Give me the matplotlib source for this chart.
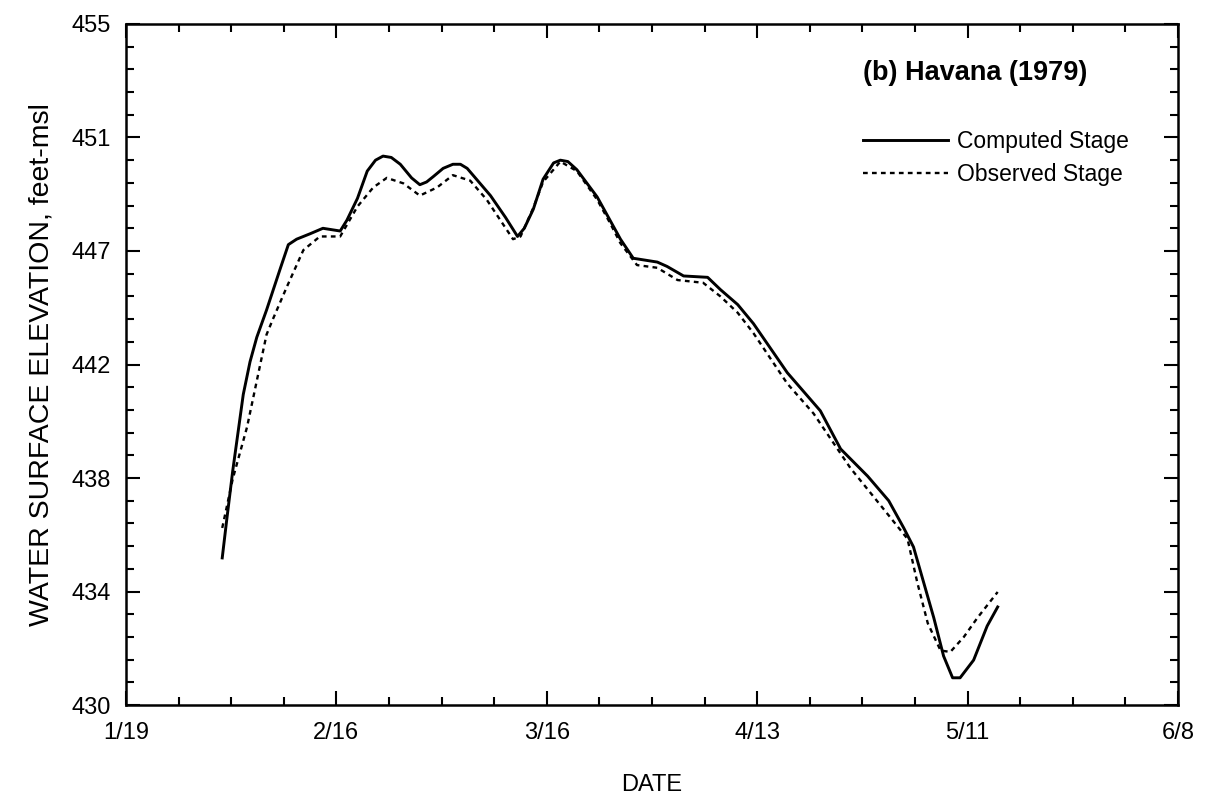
import matplotlib
matplotlib.use('Agg')
import numpy as np
import matplotlib.pyplot as plt
from matplotlib.ticker import MultipleLocator

plt.rcParams['font.family'] = ['Liberation Sans', 'DejaVu Sans']

# x = days after 1/19 (1979), y = stage in feet-msl
comp_day = [12.8, 13.4, 14.2, 15.6, 16.5, 17.4, 18.7, 20.5, 21.6, 22.7, 24.5, 26.2,
            28.5, 29.4, 30.8, 32.1, 33.2, 34.2, 35.3, 36.5, 38.0, 39.1, 40.0, 40.9,
            42.2, 43.5, 44.5, 45.4, 48.5, 50.5, 52.1, 53.0, 54.2, 55.5, 56.9, 57.8,
            58.8, 60.0, 62.7, 64.4, 65.8, 67.5, 70.7, 72.0, 74.2, 77.4, 79.1, 81.4,
            83.5, 88.0, 92.4, 95.1, 98.7, 101.5, 103.5, 104.8, 107.5, 108.8, 110.0,
            111.0, 112.8, 114.6, 116.0]
comp_stage = [435.4, 436.8, 438.6, 441.4, 442.6, 443.5, 444.5, 446.0, 446.9, 447.1, 447.3, 447.5,
              447.4, 447.8, 448.6, 449.6, 450.0, 450.15, 450.1, 449.85, 449.35, 449.1, 449.2, 449.4,
              449.7, 449.85, 449.85, 449.7, 448.7, 447.9, 447.2, 447.5, 448.2, 449.3, 449.9, 450.0,
              449.95, 449.65, 448.65, 447.8, 447.1, 446.4, 446.26, 446.1, 445.75, 445.7, 445.25, 444.7,
              444.0, 442.2, 440.8, 439.4, 438.4, 437.5, 436.5, 435.8, 433.2, 431.8, 431.0,
              431.0, 431.65, 432.9, 433.6]

obs_day = [12.8, 14.2, 16.1, 17.4, 18.7, 19.6, 21.4, 23.6, 25.8, 28.5, 30.8, 32.9,
           34.7, 36.9, 39.1, 41.4, 43.5, 45.8, 48.0, 51.5, 52.5, 54.2, 55.5, 57.8,
           60.0, 62.7, 64.4, 65.8, 68.0, 70.7, 73.4, 76.8, 79.1, 81.4, 83.5, 88.0,
           91.5, 96.4, 100.8, 104.0, 105.3, 106.7, 108.4, 109.7, 111.5, 113.3, 116.0]
obs_stage = [436.5, 438.3, 440.2, 441.9, 443.6, 444.2, 445.35, 446.7, 447.2, 447.2, 448.3, 449.0,
             449.35, 449.15, 448.7, 449.0, 449.45, 449.25, 448.55, 447.1, 447.2, 448.25, 449.2, 449.95,
             449.6, 448.55, 447.7, 446.95, 446.15, 446.05, 445.6, 445.5, 445.0, 444.4, 443.65, 441.8,
             440.7, 438.7, 437.2, 436.1, 434.5, 433.0, 432.0, 431.95, 432.5, 433.2, 434.15]

xtick_labels = ['1/19', '2/16', '3/16', '4/13', '5/11', '6/8']
ytick_labels = ['430', '434', '438', '442', '447', '451', '455']

fig = plt.figure(figsize=(12.05, 7.99), dpi=100)
ax = fig.add_axes([0.1046, 0.1176, 0.873, 0.8524])

ax.plot(comp_day, comp_stage, color='black', lw=2.1, ls='-', label='Computed Stage',
        solid_joinstyle='round')
ax.plot(obs_day, obs_stage, color='black', lw=1.7, ls=(0, (2, 1.8)), label='Observed Stage')

ax.set_xlim(0, 140)
ax.set_ylim(430, 455)
ax.set_xticks(np.arange(0, 141, 28))
ax.set_xticklabels(xtick_labels)
ax.set_yticks(np.linspace(430, 455, 7))
ax.set_yticklabels(ytick_labels)
ax.xaxis.set_minor_locator(MultipleLocator(7))
ax.yaxis.set_minor_locator(MultipleLocator(25 / 30))

ax.tick_params(which='both', direction='in', top=True, right=True, width=1.5, labelsize=17)
ax.tick_params(which='major', length=10)
ax.tick_params(which='minor', length=5.5)
ax.tick_params(axis='x', pad=12)
ax.tick_params(axis='y', pad=11)
for sp in ax.spines.values():
    sp.set_linewidth(1.8)

ax.set_xlabel('DATE', fontsize=17, labelpad=22)
ax.set_ylabel('WATER SURFACE ELEVATION, feet-msl', fontsize=20.5, labelpad=12)

ax.text(0.7006, 0.928, '(b) Havana (1979)', transform=ax.transAxes, fontsize=19.5,
        fontweight='bold', ha='left', va='center')
ax.legend(loc='upper left', bbox_to_anchor=(0.7006, 0.845), frameon=False, fontsize=16.5,
          handlelength=3.7, handletextpad=0.4, labelspacing=0.45, borderpad=0, borderaxespad=0)

fig.savefig('out.png', dpi=100)
